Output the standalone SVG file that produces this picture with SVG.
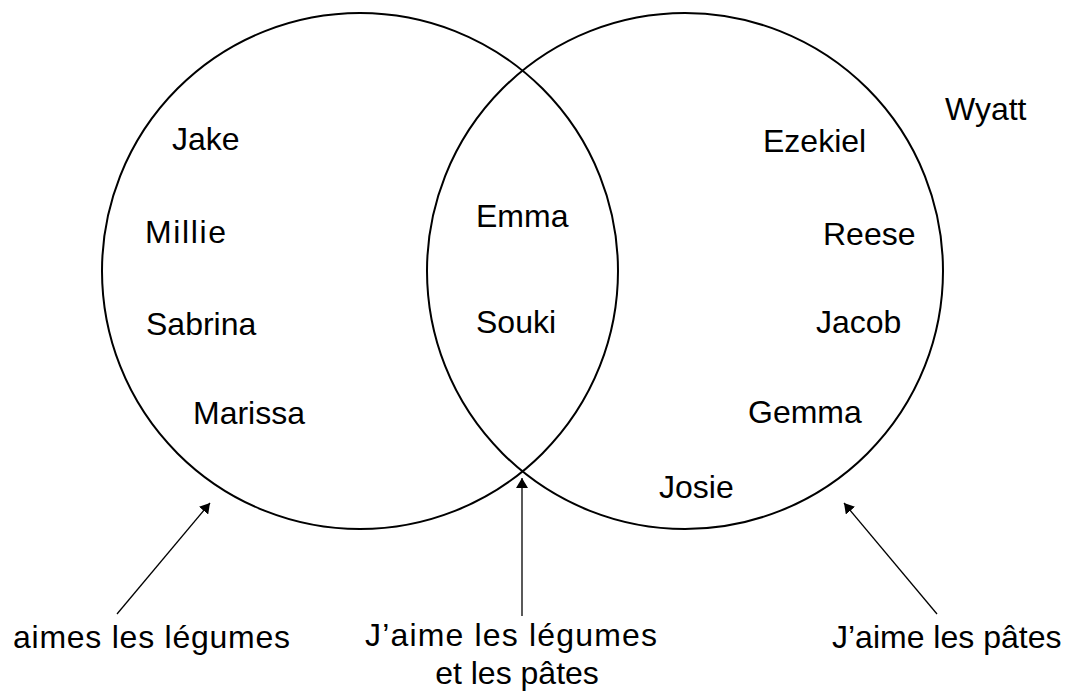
<svg xmlns="http://www.w3.org/2000/svg" width="1076" height="694" viewBox="0 0 1076 694">
  <style>
    .set { fill: none; stroke: #000; stroke-width: 2; }
    .name { font-family: "Liberation Sans", Arial, sans-serif; font-size: 32px; fill: #000; }
    .lbl { font-family: "Liberation Sans", Arial, sans-serif; font-size: 32px; fill: #000; }
    .arrow { stroke: #000; stroke-width: 1.3; fill: none; marker-end: url(#head); }
  </style>
  <defs>
    <marker id="head" markerUnits="userSpaceOnUse" markerWidth="11" markerHeight="12" refX="10" refY="6" orient="auto">
      <path d="M0,0 L10,6 L0,12 z" fill="#000"/>
    </marker>
  </defs>
  <rect width="1076" height="694" fill="#fff"/>

  <g id="set-legumes">
    <circle class="set" cx="360" cy="271" r="258"/>
  </g>
  <g id="set-pates">
    <circle class="set" cx="685" cy="271" r="258"/>
  </g>

  <g id="names-legumes">
    <text class="name" x="172" y="150">Jake</text>
    <text class="name" x="145" y="243" textLength="81">Millie</text>
    <text class="name" x="146" y="335">Sabrina</text>
    <text class="name" x="193" y="424">Marissa</text>
  </g>
  <g id="names-both">
    <text class="name" x="476" y="227">Emma</text>
    <text class="name" x="476" y="333">Souki</text>
  </g>
  <g id="names-pates">
    <text class="name" x="763" y="152">Ezekiel</text>
    <text class="name" x="823" y="245">Reese</text>
    <text class="name" x="816" y="333">Jacob</text>
    <text class="name" x="748" y="423">Gemma</text>
    <text class="name" x="659" y="498">Josie</text>
  </g>
  <g id="name-outside">
    <text class="name" x="945" y="120">Wyatt</text>
  </g>

  <g id="connectors">
    <line class="arrow" x1="117" y1="614" x2="210" y2="503"/>
    <line class="arrow" x1="522" y1="616" x2="522" y2="478"/>
    <line class="arrow" x1="937" y1="614" x2="844" y2="503"/>
  </g>

  <g id="label-legumes">
    <text class="lbl" x="13" y="648" textLength="277">aimes les légumes</text>
  </g>
  <g id="label-both">
    <text class="lbl" x="365" y="646" textLength="292">J’aime les légumes</text>
    <text class="lbl" x="517" y="684" text-anchor="middle">et les pâtes</text>
  </g>
  <g id="label-pates">
    <text class="lbl" x="832" y="648">J’aime les pâtes</text>
  </g>
</svg>
